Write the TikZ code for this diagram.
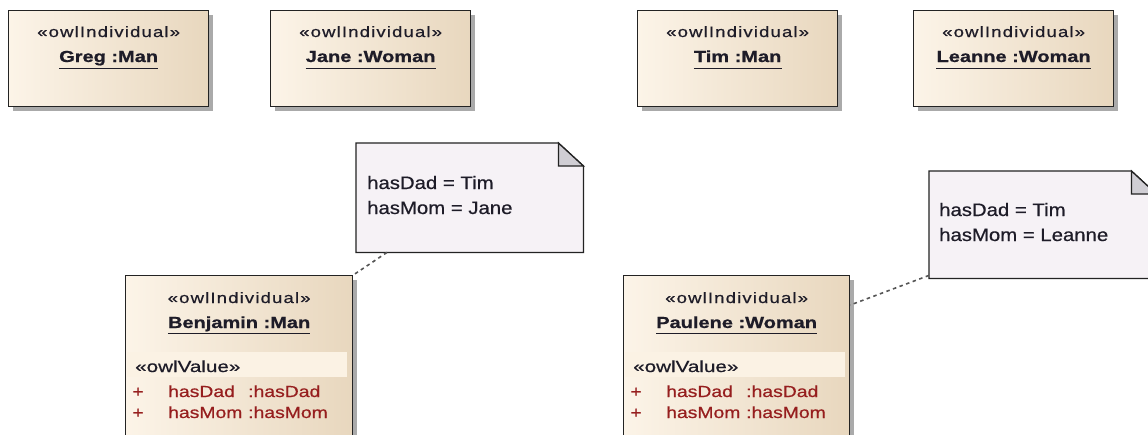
\documentclass[tikz,border=0pt]{standalone}
\usepackage{fontspec}
\setmainfont{Liberation Sans}
\newfontfamily\stfont[FakeStretch=1.24,LetterSpace=7.5,FakeBold=0.6]{Liberation Sans}
\newfontfamily\nmfont[FakeStretch=1.25,FakeBold=0.8]{Liberation Sans Bold}
\newfontfamily\ntfont[FakeStretch=1.13,FakeBold=0.6]{Liberation Sans}
\newfontfamily\atfont[FakeStretch=1.21,FakeBold=0.6]{Liberation Sans}
\newfontfamily\ovfont[FakeStretch=1.29,FakeBold=0.6]{Liberation Sans}
\usetikzlibrary{shadows,calc}
\definecolor{boxL}{RGB}{252,244,232}
\definecolor{boxR}{RGB}{232,215,190}
\definecolor{boxline}{RGB}{35,35,35}
\definecolor{notefill}{RGB}{246,242,246}
\definecolor{foldfill}{RGB}{208,206,212}
\definecolor{bandfill}{RGB}{251,242,228}
\definecolor{attrcol}{RGB}{150,30,30}
\definecolor{txtcol}{RGB}{30,28,40}
\definecolor{shadowcol}{RGB}{170,170,170}
\definecolor{conncol}{RGB}{85,85,85}
\tikzset{
  indbox/.style={draw=boxline, line width=1.3pt, left color=boxL, right color=boxR,
    anchor=north west, inner sep=0pt, minimum height=96pt,
    drop shadow={shadow xshift=4pt, shadow yshift=-4pt, fill=shadowcol, opacity=1}},
  notebox/.style={draw=none, anchor=north west, inner sep=0pt},
  stereo/.style={font=\stfont\fontsize{15pt}{17pt}\selectfont, text=txtcol, inner sep=0pt, anchor=base},
  iname/.style={font=\nmfont\fontsize{16pt}{18pt}\selectfont, text=txtcol, inner sep=0pt, anchor=base},
  ntext/.style={font=\ntfont\fontsize{18pt}{20pt}\selectfont, text=txtcol, inner sep=0pt, anchor=base west},
  attr/.style={font=\atfont\fontsize{16pt}{18pt}\selectfont, text=attrcol, inner sep=0pt, anchor=base west},
  plus/.style={font=\atfont\fontsize{16pt}{18pt}\selectfont, text=attrcol, inner sep=0pt, anchor=base},
  oval/.style={font=\ovfont\fontsize{16pt}{18pt}\selectfont, text=txtcol, inner sep=0pt, anchor=base west},
  band/.style={fill=bandfill, draw=none, anchor=north west, inner sep=0pt, minimum height=25pt},
  uline/.style={line width=1.5pt, draw=txtcol},
  conn/.style={draw=conncol, line width=1.6pt, dash pattern=on 3.5pt off 3.5pt},
  noteline/.style={draw=boxline, line width=1.3pt},
}
\newcommand{\notepoly}[1]{(#1.north west) -- ([xshift=-25pt]#1.north east) -- ([yshift=-23pt]#1.north east) -- (#1.south east) -- (#1.south west) -- cycle}
\newcommand{\notefold}[1]{([xshift=-25pt]#1.north east) -- ([xshift=-25pt,yshift=-23pt]#1.north east) -- ([yshift=-23pt]#1.north east) -- cycle}
\begin{document}
\begin{tikzpicture}[x=1pt,y=-1pt]
\useasboundingbox (0,0) rectangle (1148,434);
\clip (0,0) rectangle (1148,434);
\fill[white] (0,0) rectangle (1148,434);

% notes (invisible nodes carrying geometry)
\node[notebox, minimum width=227pt, minimum height=109pt] (note1) at (356,143) {};
\node[notebox, minimum width=227pt, minimum height=107pt] (note2) at (929,171) {};
\begin{scope}[shift={(4pt,-4pt)}]
  \fill[shadowcol] \notepoly{note1};
  \fill[shadowcol] \notepoly{note2};
\end{scope}
\path[noteline, fill=notefill] \notepoly{note1};
\path[noteline, fill=foldfill] \notefold{note1};
\path[noteline, fill=notefill] \notepoly{note2};
\path[noteline, fill=foldfill] \notefold{note2};
\node[ntext] (n1a) at (367,189) {hasDad = Tim};
\node[ntext] (n1b) at (367,214) {hasMom = Jane};
\node[ntext] (n2a) at (939,216) {hasDad = Tim};
\node[ntext] (n2b) at (939,241) {hasMom = Leanne};

% top individuals
\node[indbox, minimum width=200pt] (greg) at (8,10) {};
\node[indbox, minimum width=200pt] (jane) at (270,10) {};
\node[indbox, minimum width=200pt] (tim) at (637,10) {};
\node[indbox, minimum width=200pt] (leanne) at (913,10) {};
\foreach \b/\nm in {greg/Greg :Man, jane/Jane :Woman, tim/Tim :Man, leanne/Leanne :Woman}{
  \node[stereo] (\b-st) at ([yshift=-27pt]\b.north) {«owlIndividual»};
  \node[iname] (\b-nm) at ([yshift=-52pt]\b.north) {\nm};
  \draw[uline] ([yshift=-6.5pt]\b-nm.base west) -- ([yshift=-6.5pt]\b-nm.base east);
}

% lower individuals
\node[indbox, minimum width=227pt, minimum height=175pt] (benj) at (125,275) {};
\node[indbox, minimum width=226pt, minimum height=175pt] (paul) at (623,275) {};
\foreach \b/\nm in {benj/Benjamin :Man, paul/Paulene :Woman}{
  \node[stereo] (\b-st) at ([yshift=-28pt]\b.north) {«owlIndividual»};
  \node[iname] (\b-nm) at ([yshift=-53pt]\b.north) {\nm};
  \draw[uline] ([yshift=-5.5pt]\b-nm.base west) -- ([yshift=-5.5pt]\b-nm.base east);
  \node[band, minimum width=220pt] (\b-band) at ([shift={(2pt,-77pt)}]\b.north west) {};
  \node[oval] (\b-ov) at ([shift={(10pt,-97pt)}]\b.north west) {«owlValue»};
  \node[plus] (\b-p1) at ([shift={(13pt,-122pt)}]\b.north west) {+};
  \node[attr] (\b-a1) at ([shift={(43pt,-122pt)}]\b.north west) {hasDad};
  \node[attr] (\b-t1) at ([shift={(123pt,-122pt)}]\b.north west) {:hasDad};
  \node[plus] (\b-p2) at ([shift={(13pt,-143pt)}]\b.north west) {+};
  \node[attr] (\b-a2) at ([shift={(43pt,-143pt)}]\b.north west) {hasMom};
  \node[attr] (\b-t2) at ([shift={(123pt,-143pt)}]\b.north west) {:hasMom};
}

% connectors
\coordinate (c1) at ([xshift=31pt]note1.south west);
\coordinate (c2) at ([yshift=3pt]note2.south west);
\coordinate (c3) at ([yshift=-30pt]paul.north east);
\draw[conn] (c1) -- (benj.north east);
\draw[conn] (c2) -- (c3);
\end{tikzpicture}
\end{document}
